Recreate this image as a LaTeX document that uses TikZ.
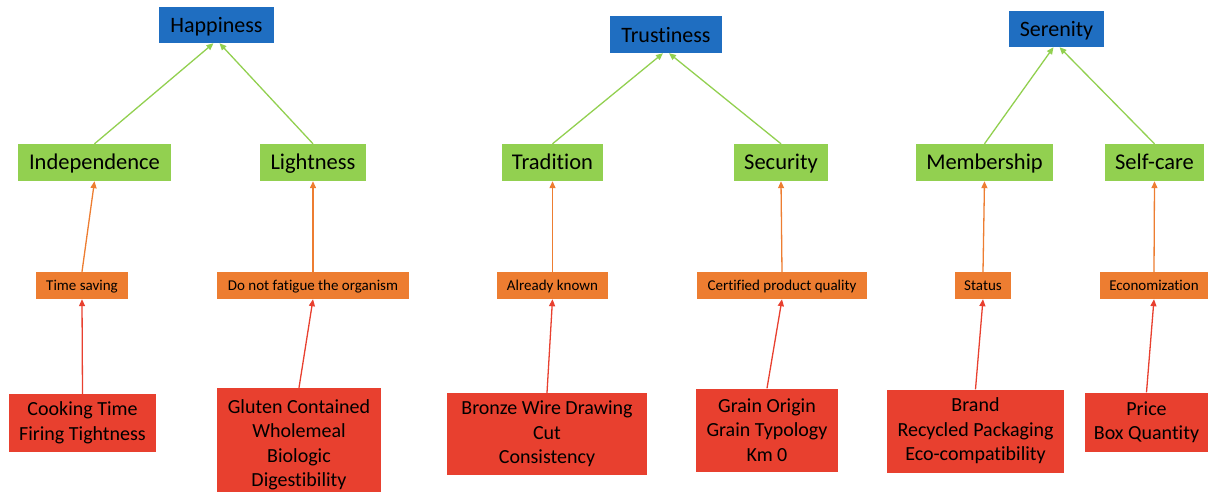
\documentclass[tikz,border=0pt]{standalone}
\usepackage{fontspec}
\setmainfont{Carlito}[Ligatures=CommonOff]
\usetikzlibrary{arrows.meta}
\definecolor{cblue}{HTML}{1F6EC1}
\definecolor{cgreen}{HTML}{92D050}
\definecolor{corange}{HTML}{ED7D31}
\definecolor{cred}{HTML}{E8402F}
\tikzset{
  box/.style={inner sep=0pt, align=center, text=black},
  bluebox/.style={box, text height=16pt, text depth=0pt, fill=cblue, minimum height=36pt, font=\fontsize{22}{26}\selectfont},
  greenbox/.style={box, text height=15pt, text depth=0pt, fill=cgreen, minimum height=37pt, font=\fontsize{22.5}{26}\selectfont},
  orangebox/.style={box, text height=10.4pt, text depth=0pt, fill=corange, minimum height=27pt, font=\fontsize{15}{18}\selectfont},
  redbox/.style={box, fill=cred, font=\fontsize{20}{24.5}\selectfont},
  arr/.style={line width=1.3pt, -{Triangle[length=7pt,width=6pt]}},
  garr/.style={arr, draw=cgreen},
  oarr/.style={arr, draw=corange},
  rarr/.style={arr, draw=cred},
}
\begin{document}
\begin{tikzpicture}[x=1pt,y=-1pt]
\useasboundingbox (0,0) rectangle (1208,492);
% blue
\node[bluebox, minimum width=115pt] (hap) at (216.5,25) {Happiness};
\node[bluebox, minimum width=112pt, minimum height=37pt] (tru) at (666,34.5) {Trustiness};
\node[bluebox, minimum width=95pt] (ser) at (1056.5,29) {Serenity};
% green
\node[greenbox, minimum width=153pt] (ind) at (94.5,162.5) {Independence};
\node[greenbox, minimum width=106pt] (lig) at (313,162.5) {Lightness};
\node[greenbox, minimum width=101pt] (tra) at (552.5,162.5) {Tradition};
\node[greenbox, minimum width=94pt] (sec) at (781,162.5) {Security};
\node[greenbox, minimum width=137pt] (mem) at (984.5,162.5) {Membership};
\node[greenbox, minimum width=99pt] (sel) at (1154.5,162.5) {Self-care};
% orange
\node[orangebox, minimum width=92pt] (tsv) at (82,285.5) {Time saving};
\node[orangebox, minimum width=192pt] (dnf) at (313,285.5) {Do not fatigue the organism};
\node[orangebox, minimum width=111pt] (alk) at (552.5,285.5) {Already known};
\node[orangebox, minimum width=170pt] (cpq) at (782,285.5) {Certified product quality};
\node[orangebox, minimum width=56pt] (sta) at (983,285.5) {Status};
\node[orangebox, minimum width=108pt] (eco) at (1154,285.5) {Economization};
% red
\node[redbox, minimum width=147pt, minimum height=58pt] (ckt) at (82.5,423) {Cooking Time\\Firing Tightness};
\node[redbox, minimum width=164pt, minimum height=114pt] (glu) at (299,445) {Gluten Contained\\Wholemeal\\Biologic\\Digestibility};
\node[redbox, minimum width=200pt, minimum height=82pt] (bro) at (547,434) {Bronze Wire Drawing\\Cut\\Consistency};
\node[redbox, minimum width=142pt, minimum height=83pt] (gra) at (767,430) {Grain Origin\\Grain Typology\\Km 0};
\node[redbox, minimum width=177pt, minimum height=83pt] (brn) at (975.5,431) {Brand\\Recycled Packaging\\Eco-compatibility};
\node[redbox, minimum width=123pt, minimum height=59pt] (pri) at (1146.5,422) {Price\\Box Quantity};
% green arrows
\draw[garr] (ind.north) -- ([xshift=-3pt]hap.south);
\draw[garr] (lig.north) -- ([xshift=3pt]hap.south);
\draw[garr] (tra.north) -- ([xshift=-3pt]tru.south);
\draw[garr] (sec.north) -- ([xshift=3pt]tru.south);
\draw[garr] (mem.north) -- ([xshift=-3pt]ser.south);
\draw[garr] (sel.north) -- ([xshift=3pt]ser.south);
% orange arrows
\draw[oarr] (tsv.north) -- (ind.south);
\draw[oarr] (dnf.north) -- (lig.south);
\draw[oarr] (alk.north) -- (tra.south);
\draw[oarr] (cpq.north) -- (sec.south);
\draw[oarr] (sta.north) -- (mem.south);
\draw[oarr] (eco.north) -- (sel.south);
% red arrows
\draw[rarr] (ckt.north) -- (tsv.south);
\draw[rarr] (glu.north) -- (dnf.south);
\draw[rarr] (bro.north) -- (alk.south);
\draw[rarr] (gra.north) -- (cpq.south);
\draw[rarr] (brn.north) -- (sta.south);
\draw[rarr] (pri.north) -- (eco.south);
\end{tikzpicture}
\end{document}
